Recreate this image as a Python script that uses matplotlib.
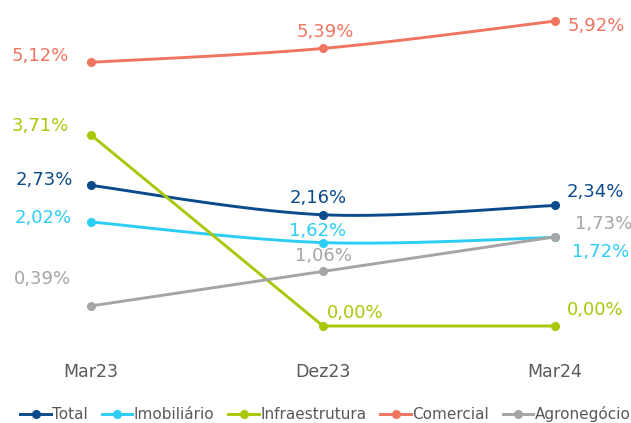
import numpy as np
import matplotlib
matplotlib.use("Agg")
import matplotlib.pyplot as plt
from matplotlib.lines import Line2D

categories = ["Mar23", "Dez23", "Mar24"]
total = [2.73, 2.16, 2.34]
imobiliario = [2.02, 1.62, 1.72]
infraestrutura = [3.71, 0.00, 0.00]
comercial = [5.12, 5.39, 5.92]
agronegocio = [0.39, 1.06, 1.73]

series = [
    ("Total", total, "#0b4a8b", True),
    ("Imobiliário", imobiliario, "#2ccdf5", True),
    ("Infraestrutura", infraestrutura, "#a9c80a", False),
    ("Comercial", comercial, "#ef7561", True),
    ("Agronegócio", agronegocio, "#a5a5a5", False),
]

# label offsets in pixels (dx, dy) relative to each point
offsets = {
    "Total": [(-18, 5), (-5, 17), (12, 13)],
    "Imobiliário": [(-19, 4), (-5, 12), (17, -15)],
    "Infraestrutura": [(-22, 9), (32, 13), (12, 16)],
    "Comercial": [(-22, 6), (2, 16), (13, -5)],
    "Agronegócio": [(-20, 27), (0, 15), (20, 13)],
}


def smooth(xs, ys, n=40):
    xs = np.asarray(xs, float)
    ys = np.asarray(ys, float)
    px = np.concatenate([[xs[0]], xs, [xs[-1]]])
    py = np.concatenate([[ys[0]], ys, [ys[-1]]])
    outx, outy = [], []
    for i in range(1, len(px) - 2):
        p0 = np.array([px[i - 1], py[i - 1]])
        p1 = np.array([px[i], py[i]])
        p2 = np.array([px[i + 1], py[i + 1]])
        p3 = np.array([px[i + 2], py[i + 2]])
        c1 = p1 + (p2 - p0) / 6.0
        c2 = p2 - (p3 - p1) / 6.0
        t = np.linspace(0, 1, n)[:, None]
        pts = ((1 - t) ** 3) * p1 + 3 * ((1 - t) ** 2) * t * c1 + 3 * (1 - t) * t ** 2 * c2 + t ** 3 * p2
        outx.extend(pts[:, 0])
        outy.extend(pts[:, 1])
    return np.array(outx), np.array(outy)


W, H = 631, 423
fig = plt.figure(figsize=(W / 100, H / 100), dpi=100)
ax_bottom_px = 345
ax = fig.add_axes([0, (H - ax_bottom_px) / H, 1, ax_bottom_px / H])

x0px, x2px = 91, 555
ppu_x = (x2px - x0px) / 2
ax.set_xlim(-x0px / ppu_x, 2 + (W - x2px) / ppu_x)
zero_px, ppu_y = 326, 51.5
ax.set_ylim(-(ax_bottom_px - zero_px) / ppu_y, zero_px / ppu_y)

xs = np.arange(len(categories))
for name, vals, color, sm in series:
    if sm:
        sx, sy = smooth(xs, vals)
    else:
        sx, sy = xs, np.asarray(vals)
    ax.plot(sx, sy, color=color, lw=2.1, solid_capstyle="round", zorder=2)
    ax.plot(xs, vals, "o", color=color, ms=5.5, zorder=3)
    for i, v in enumerate(vals):
        dx, dy = offsets[name][i]
        if i == 0:
            ha = "right"
        elif i == 2:
            ha = "left"
        else:
            ha = "center"
        ax.annotate(f"{v:.2f}%".replace(".", ","), (xs[i], v),
                    xytext=(dx * 0.72, dy * 0.72), textcoords="offset points",
                    ha=ha, va="center", color=color, fontsize=13)

ax.set_xticks(xs)
ax.set_xticklabels(categories, fontsize=12.5, color="#595959")
ax.tick_params(axis="x", length=0, pad=13)
ax.set_yticks([])
for s in ax.spines.values():
    s.set_visible(False)

handles = [Line2D([0], [0], color=c, lw=2.1, marker="o", ms=5.5) for _, _, c, _ in series]
leg = fig.legend(handles, [s[0] for s in series], loc="center",
                 bbox_to_anchor=(0.516, 1 - 414 / H), ncol=5, frameon=False,
                 fontsize=11, handlelength=2.0, handletextpad=0.1,
                 columnspacing=0.9, borderaxespad=0)
for t in leg.get_texts():
    t.set_color("#595959")

fig.savefig("out.png", dpi=100)
